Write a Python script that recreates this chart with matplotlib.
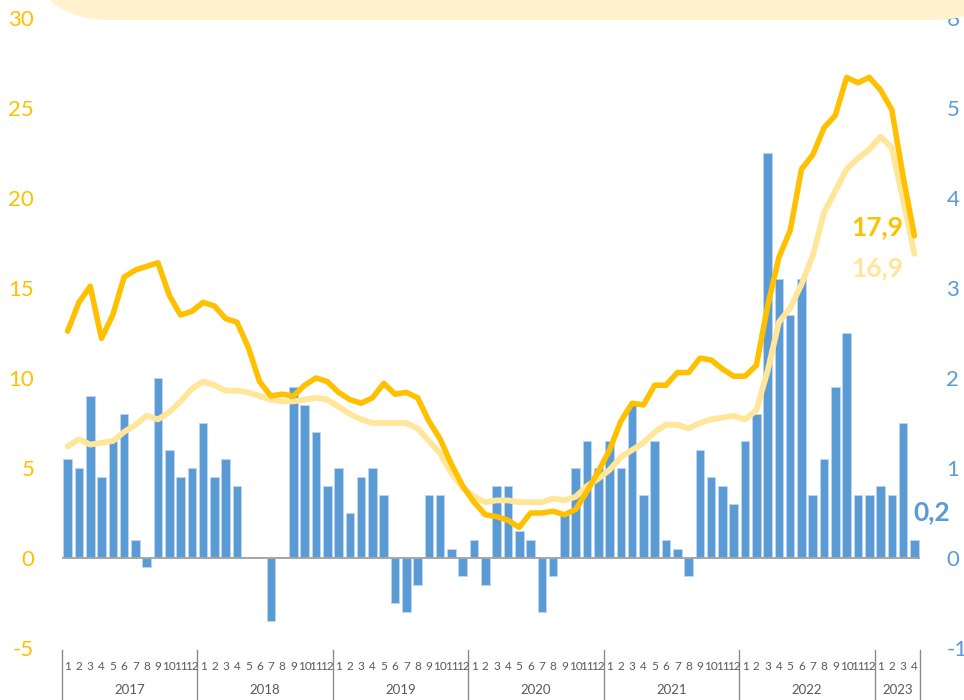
import matplotlib
matplotlib.use('Agg')
import matplotlib.pyplot as plt
import matplotlib.transforms as mtransforms
from matplotlib.patches import FancyBboxPatch

# --- dados (jan/2017 .. abr/2023) ---
years = ['2017', '2018', '2019', '2020', '2021', '2022', '2023']
months_per_year = [12, 12, 12, 12, 12, 12, 4]

# variação mensal (eixo direito, barras)
monthly_change = [
    1.1, 1.0, 1.8, 0.9, 1.3, 1.6, 0.2, -0.1, 2.0, 1.2, 0.9, 1.0,
    1.5, 0.9, 1.1, 0.8, 0.0, 0.0, -0.7, 0.0, 1.9, 1.7, 1.4, 0.8,
    1.0, 0.5, 0.9, 1.0, 0.7, -0.5, -0.6, -0.3, 0.7, 0.7, 0.1, -0.2,
    0.2, -0.3, 0.8, 0.8, 0.3, 0.2, -0.6, -0.2, 0.5, 1.0, 1.3, 1.0,
    1.3, 1.0, 1.7, 0.7, 1.3, 0.2, 0.1, -0.2, 1.2, 0.9, 0.8, 0.6,
    1.3, 1.6, 4.5, 3.1, 2.7, 3.1, 0.7, 1.1, 1.9, 2.5, 0.7, 0.7,
    0.8, 0.7, 1.5, 0.2,
]

# variação anual (eixo esquerdo, linha escura)
annual_rate = [
    12.6, 14.2, 15.1, 12.2, 13.5, 15.6, 16.0, 16.2, 16.4, 14.6, 13.5, 13.7,
    14.2, 14.0, 13.3, 13.1, 11.7, 9.8, 9.0, 9.1, 9.0, 9.6, 10.0, 9.8,
    9.2, 8.8, 8.6, 8.9, 9.7, 9.1, 9.2, 8.9, 7.6, 6.6, 5.2, 4.0,
    3.1, 2.4, 2.3, 2.1, 1.7, 2.5, 2.5, 2.6, 2.4, 2.7, 3.7, 4.8,
    6.0, 7.6, 8.6, 8.5, 9.6, 9.6, 10.3, 10.3, 11.1, 11.0, 10.5, 10.1,
    10.1, 10.7, 14.0, 16.7, 18.2, 21.6, 22.4, 23.9, 24.6, 26.7, 26.4, 26.7,
    26.0, 24.9, 21.2, 17.9,
]

# segunda série anual (eixo esquerdo, linha clara)
second_rate = [
    6.2, 6.6, 6.3, 6.4, 6.5, 7.0, 7.4, 7.9, 7.7, 8.1, 8.7, 9.4,
    9.8, 9.6, 9.3, 9.3, 9.2, 9.0, 8.8, 8.7, 8.7, 8.8, 8.9, 8.8,
    8.4, 8.0, 7.7, 7.5, 7.5, 7.5, 7.5, 7.2, 6.5, 5.8, 4.7, 3.9,
    3.4, 3.1, 3.2, 3.2, 3.1, 3.1, 3.1, 3.3, 3.2, 3.4, 4.0, 4.4,
    4.9, 5.6, 6.0, 6.4, 7.0, 7.4, 7.4, 7.2, 7.5, 7.7, 7.8, 7.9,
    7.7, 8.2, 10.4, 13.1, 13.9, 15.2, 16.8, 19.2, 20.4, 21.6, 22.2, 22.7,
    23.4, 22.8, 19.9, 16.9,
]

left_ticks = [-5, 0, 5, 10, 15, 20, 25, 30]
right_ticks = [-1, 0, 1, 2, 3, 4, 5, 6]

ORANGE = '#FFC000'
LIGHT = '#FFE699'
BLUE = '#5B9BD5'
GREY = '#595959'


def main():
    plt.rcParams['font.family'] = ['Lato', 'DejaVu Sans']
    fig = plt.figure(figsize=(9.64, 7), dpi=100)

    # caixa amarela (legenda cortada) no topo
    box = FancyBboxPatch((0.30, 6.80), 9.83, 1.5,
                         boxstyle='round,pad=0,rounding_size=0.8',
                         transform=fig.dpi_scale_trans,
                         facecolor='#FFF2CC', edgecolor='none', zorder=0)
    fig.patches.append(box)

    ax_bar = fig.add_axes([0.0643, 0.0743, 0.8901, 0.9])
    ax_line = ax_bar.twinx()

    x = list(range(len(monthly_change)))

    # === barras: variação mensal ===
    ax_bar.bar(x, monthly_change, width=0.76, color=BLUE,
               edgecolor='#BDD7EE', linewidth=0.6, zorder=2)
    ax_bar.axhline(0, color='#A6A6A6', linewidth=1.4, zorder=3)
    ax_bar.set_ylim(-1, 6)
    ax_bar.set_yticks(right_ticks)
    ax_bar.set_yticklabels([str(t) for t in right_ticks])
    ax_bar.yaxis.tick_right()
    ax_bar.tick_params(axis='y', length=0, pad=19, labelsize=16,
                       labelcolor=BLUE)

    # === linhas: variações anuais ===
    ax_line.plot(x, second_rate, color=LIGHT, linewidth=4.2,
                 solid_joinstyle='round', solid_capstyle='round', zorder=3)
    ax_line.plot(x, annual_rate, color=ORANGE, linewidth=4.0,
                 solid_joinstyle='round', solid_capstyle='round', zorder=4)
    ax_line.set_ylim(-5, 30)
    ax_line.set_yticks(left_ticks)
    ax_line.set_yticklabels([str(t) for t in left_ticks])
    ax_line.yaxis.tick_left()
    ax_line.tick_params(axis='y', length=0, pad=20, labelsize=16,
                        labelcolor=ORANGE)

    for a in (ax_bar, ax_line):
        a.set_xlim(-0.5, len(x) - 0.5)
        a.set_xticks([])
        for s in a.spines.values():
            s.set_visible(False)
        a.patch.set_visible(False)

    # rótulos finais (por cima das linhas)
    last = len(x) - 1
    ax_line.text(last - 0.95, annual_rate[-1] + 0.5,
                 f"{annual_rate[-1]:.1f}".replace('.', ','),
                 color=ORANGE, fontsize=19, fontweight='bold',
                 ha='right', va='center', zorder=6)
    ax_line.text(last - 0.95, second_rate[-1] - 0.8,
                 f"{second_rate[-1]:.1f}".replace('.', ','),
                 color=LIGHT, fontsize=19, fontweight='bold',
                 ha='right', va='center', zorder=6)
    ax_bar.text(last - 0.1, monthly_change[-1] + 0.31,
                f"{monthly_change[-1]:.1f}".replace('.', ','),
                color=BLUE, fontsize=19, fontweight='bold',
                ha='left', va='center', clip_on=False)

    # eixo x em dois níveis (meses / anos)
    trans = mtransforms.blended_transform_factory(ax_bar.transData,
                                                  ax_bar.transAxes)
    start = 0
    bounds = [-0.5]
    for year, n in zip(years, months_per_year):
        for m in range(n):
            ax_bar.text(start + m, -0.030, str(m + 1), transform=trans,
                        ha='center', va='center', fontsize=8.5, color=GREY)
        ax_bar.text(start + (n - 1) / 2, -0.067, year, transform=trans,
                    ha='center', va='center', fontsize=9.5, color=GREY)
        start += n
        bounds.append(start - 0.5)
    for b in bounds:
        ax_bar.plot([b, b], [-0.003, -0.085], transform=trans,
                    color='#8C8C8C', linewidth=1.0, clip_on=False)

    fig.savefig('out.png', dpi=100)


if __name__ == '__main__':
    main()
